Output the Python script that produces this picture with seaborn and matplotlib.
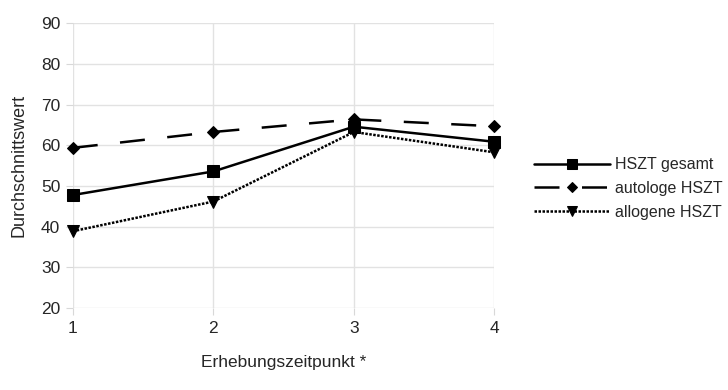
import matplotlib
matplotlib.use("Agg")
import matplotlib.pyplot as plt
import seaborn as sns
import pandas as pd

zeitpunkt = [1, 2, 3, 4]
hszt_gesamt = [47.8, 53.6, 64.6, 60.9]
autologe = [59.4, 63.3, 66.4, 64.7]
allogene = [38.9, 46.2, 63.3, 58.3]
series_names = ["HSZT gesamt", "autologe HSZT", "allogene HSZT"]

sns.set_style("white")
plt.rcParams['font.family'] = ['Liberation Sans', 'DejaVu Sans']

fig = plt.figure(figsize=(7.28, 3.9), dpi=100)
ax = fig.add_axes([0.1, 0.21, 0.579, 0.73])

df = pd.DataFrame({"x": zeitpunkt * 3,
                   "y": hszt_gesamt + autologe + allogene,
                   "s": sum([[n] * 4 for n in series_names], [])})

styles = {
    "HSZT gesamt": dict(linestyle="-", marker="s", markersize=8.5),
    "autologe HSZT": dict(linestyle=(0, (10, 9)), marker="D", markersize=6.5),
    "allogene HSZT": dict(linestyle=(0, (1, 0.6)), marker="v", markersize=9),
}
for name in series_names:
    sub = df[df.s == name]
    sns.lineplot(data=sub, x="x", y="y", ax=ax, color="black", linewidth=1.8,
                 label=name, markeredgecolor="black", clip_on=False, **styles[name])

ax.set_xlim(1, 4)
ax.set_ylim(20, 90)
ax.set_xticks(zeitpunkt)
ax.set_yticks(range(20, 91, 10))
ax.grid(True, color="#e2e2e2", linewidth=1)
for s in ax.spines.values():
    s.set_visible(False)
ax.tick_params(axis="both", which="both", length=5, color="#d8d8d8",
               labelsize=12.5, direction="out", left=True, bottom=True, pad=4)
ax.set_xlabel("Erhebungszeitpunkt *", fontsize=12.5, labelpad=14)
ax.set_ylabel("Durchschnittswert", fontsize=13, labelpad=10)

leg = ax.legend(loc="center left", bbox_to_anchor=(1.078, 0.42), frameon=False,
                borderaxespad=0, fontsize=11.5, handlelength=4.8, labelspacing=0.55,
                handletextpad=0.3, markerscale=0.8)
fig.savefig("out.png", dpi=100)
